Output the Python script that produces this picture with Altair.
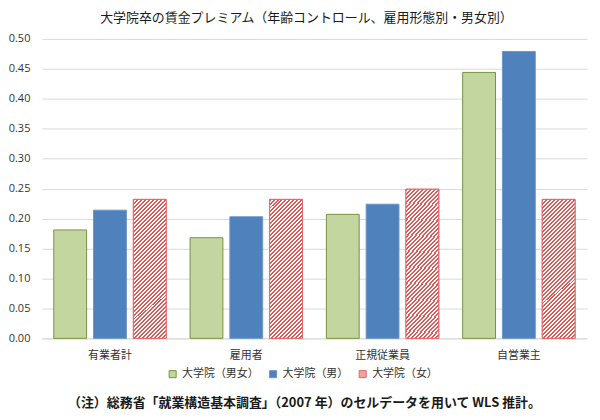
import altair as alt
import pandas as pd

cats = ["有業者計", "雇用者", "正規従業員", "自営業主"]
series = ["大学院（男女）", "大学院（男）", "大学院（女）"]
v_all = [0.181, 0.168, 0.207, 0.444]
v_men = [0.214, 0.203, 0.224, 0.479]
v_women = [0.232, 0.232, 0.249, 0.232]
y_ticks = [0.0, 0.05, 0.10, 0.15, 0.20, 0.25, 0.30, 0.35, 0.40, 0.45, 0.50]

title_text = "大学院卒の賃金プレミアム（年齢コントロール、雇用形態別・男女別）"
note_text = "（注）総務省「就業構造基本調査」（2007 年）のセルデータを用いて WLS 推計。"

fills = ["#c4d6a0", "#4f81bd", "#eea3a1"]
strokes = ["#77933c", "#6b95cb", "#df6a66"]

rows = []
for i, c in enumerate(cats):
    for s, vals in zip(series, [v_all, v_men, v_women]):
        rows.append({"cat": c, "series": s, "value": vals[i]})
df = pd.DataFrame(rows)

JP = "Noto Sans CJK JP"

# diagonal hatch via hard-stop linear gradient (about 4px horizontal pitch)
stops = []
span = 172.7
pitch = 4.0
k = 0
while k * pitch < span:
    a = min(k * pitch / span, 1.0)
    b = min((k + 0.5) * pitch / span, 1.0)
    e = min((k + 1) * pitch / span, 1.0)
    stops += [
        alt.GradientStop(offset=a, color="#e05a55"),
        alt.GradientStop(offset=b, color="#e05a55"),
        alt.GradientStop(offset=b, color="#ffffff"),
        alt.GradientStop(offset=e, color="#ffffff"),
    ]
    k += 1
hatch_fill = alt.LinearGradient(gradient="linear", stops=stops, x1=0, y1=0, x2=0.276, y2=1.17)

base = alt.Chart(df).encode(
    x=alt.X("cat:N", sort=cats, title=None,
            scale=alt.Scale(paddingInner=0, paddingOuter=0),
            axis=alt.Axis(labelAngle=0, ticks=False, domainColor="#d9d9d9",
                          labelFont=JP, labelFontSize=11, labelColor="#333333",
                          labelPadding=11)),
    xOffset=alt.XOffset("series:N", sort=series,
                        scale=alt.Scale(domain=series, paddingInner=0.175, paddingOuter=0.3)),
    y=alt.Y("value:Q", title=None,
            scale=alt.Scale(domain=[0, 0.5], nice=False),
            axis=alt.Axis(values=y_ticks, format=".2f", ticks=False, domain=False,
                          gridColor="#d9d9d9", labelFont="Open Sans", labelFontSize=11,
                          labelColor="#333333", labelPadding=12)),
)

bars = base.mark_bar(strokeWidth=1).encode(
    color=alt.Color("series:N", sort=series,
                    scale=alt.Scale(domain=series, range=fills),
                    legend=alt.Legend(title=None, orient="none", direction="horizontal",
                                      legendX=126, legendY=331, symbolType="square",
                                      symbolSize=50, labelFont=JP, labelFontSize=11,
                                      labelColor="#333333", columnPadding=8,
                                      symbolStrokeWidth=1)),
    stroke=alt.Stroke("series:N", sort=series,
                      scale=alt.Scale(domain=series, range=strokes), legend=None),
)

hatch = base.transform_filter(alt.datum.series == series[2]).mark_bar(
    fill=hatch_fill, stroke="#df6a66", strokeWidth=1
)

note = alt.Chart(pd.DataFrame({"t": [note_text]})).mark_text(
    font=JP, fontSize=13, fontWeight="bold", color="#1a1a1a", align="center", baseline="middle"
).encode(text="t:N", x=alt.value(264), y=alt.value(366))

chart = alt.layer(bars, hatch, note).properties(
    width=548, height=301,
    title=alt.Title(title_text, font=JP, fontSize=13, fontWeight="normal", color="#1a1a1a",
                    anchor="middle", dx=-8, offset=8),
    padding={"left": 0, "top": 3, "right": 5, "bottom": 5},
).configure_view(stroke=None)

chart.save("out.html", embed_options={"renderer": "svg", "actions": False})
